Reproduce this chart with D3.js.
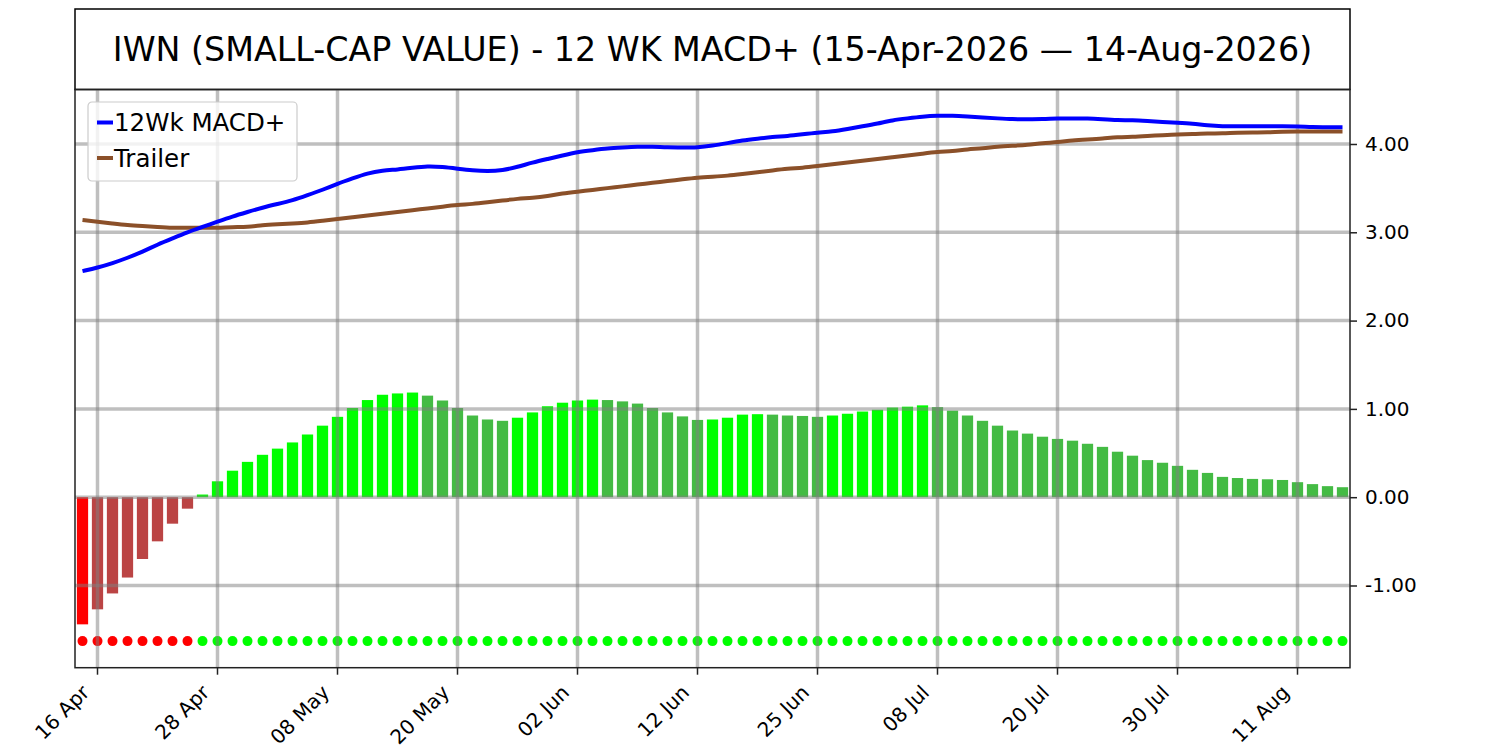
<!DOCTYPE html>
<html>
<head>
<meta charset="utf-8">
<script src="https://cdn.jsdelivr.net/npm/d3@7"></script>
<style>
  body { margin: 0; background: #fff; }
  svg { display: block; font-family: 'DejaVu Sans', sans-serif; }
</style>
</head>
<body>
<div id="chart"></div>
<script>
// trading days shown on the chart
const days = [
  '2026-04-15','2026-04-16','2026-04-17','2026-04-20','2026-04-21','2026-04-22','2026-04-23','2026-04-24','2026-04-27','2026-04-28','2026-04-29','2026-04-30',
  '2026-05-01','2026-05-04','2026-05-05','2026-05-06','2026-05-07','2026-05-08','2026-05-11','2026-05-12','2026-05-13','2026-05-14','2026-05-15','2026-05-18','2026-05-19','2026-05-20','2026-05-21','2026-05-22','2026-05-26','2026-05-27','2026-05-28','2026-05-29',
  '2026-06-01','2026-06-02','2026-06-03','2026-06-04','2026-06-05','2026-06-08','2026-06-09','2026-06-10','2026-06-11','2026-06-12','2026-06-15','2026-06-16','2026-06-17','2026-06-18','2026-06-22','2026-06-23','2026-06-24','2026-06-25','2026-06-26','2026-06-29','2026-06-30',
  '2026-07-01','2026-07-02','2026-07-06','2026-07-07','2026-07-08','2026-07-09','2026-07-10','2026-07-13','2026-07-14','2026-07-15','2026-07-16','2026-07-17','2026-07-20','2026-07-21','2026-07-22','2026-07-23','2026-07-24','2026-07-27','2026-07-28','2026-07-29','2026-07-30','2026-07-31',
  '2026-08-03','2026-08-04','2026-08-05','2026-08-06','2026-08-07','2026-08-10','2026-08-11','2026-08-12','2026-08-13','2026-08-14'
];

const tickDays = ['2026-04-16','2026-04-28','2026-05-08','2026-05-20','2026-06-02','2026-06-12','2026-06-25','2026-07-08','2026-07-20','2026-07-30','2026-08-11'];

// histogram (MACD+ minus trailer)
const hist = [
  -1.44,-1.27,-1.09,-0.91,-0.70,-0.50,-0.30,-0.13,
  0.03,0.18,0.30,0.40,0.48,0.55,0.62,0.71,0.81,0.91,
  1.01,1.10,1.16,1.175,
  1.185,1.15,1.095,1.01,0.925,0.88,0.865,
  0.90,0.96,1.03,1.07,1.095,1.105,
  1.10,1.085,1.06,1.01,0.96,0.915,0.875,
  0.88,0.90,0.935,0.94,
  0.935,0.925,0.92,0.91,
  0.925,0.945,0.97,0.99,1.015,1.025,1.04,
  1.02,0.98,0.925,0.865,0.81,0.755,0.72,0.685,
  0.66,0.64,0.605,0.57,0.515,0.47,0.42,0.39,0.355,0.31,0.275,0.23,0.217,0.207,0.203,0.195,0.17,0.148,0.125,0.113
];

const macd = [
  2.56,2.60,2.65,2.71,2.78,2.86,2.93,3.00,3.06,3.12,3.18,3.23,3.28,3.32,3.36,3.42,3.48,3.55,3.61,3.67,3.70,3.71,
  3.73,3.75,3.74,3.72,3.70,3.69,3.70,3.74,3.79,3.83,3.87,3.91,3.93,3.95,3.96,3.97,3.97,3.96,3.96,3.96,3.98,
  4.01,4.04,4.06,4.08,4.09,4.11,4.13,4.14,4.17,4.20,4.23,4.27,4.29,4.31,4.32,4.32,4.31,4.30,4.29,4.28,4.28,4.28,
  4.29,4.29,4.29,4.28,4.27,4.27,4.26,4.25,4.24,4.23,4.21,4.20,4.20,4.20,4.20,4.20,4.20,4.19,4.19,4.19
];

const trailer = [
  3.14,3.12,3.10,3.08,3.07,3.06,3.05,3.05,3.05,3.05,3.06,3.06,3.08,3.09,3.10,3.11,3.13,3.15,3.17,3.19,3.21,3.23,
  3.25,3.27,3.29,3.31,3.32,3.34,3.36,3.38,3.39,3.41,3.44,3.46,3.48,3.50,3.52,3.54,3.56,3.58,3.60,3.62,3.63,
  3.64,3.66,3.68,3.70,3.72,3.73,3.75,3.77,3.79,3.81,3.83,3.85,3.87,3.89,3.91,3.92,3.94,3.95,3.97,3.98,3.99,4.01,
  4.02,4.04,4.05,4.06,4.08,4.08,4.09,4.10,4.11,4.11,4.12,4.12,4.13,4.13,4.13,4.14,4.14,4.14,4.14,4.14
];

const yTicks = [-1, 0, 1, 2, 3, 4];
const dotLevel = -1.63;
const title = 'IWN (SMALL-CAP VALUE) - 12 WK MACD+ (15-Apr-2026 \u2014 14-Aug-2026)';

const W = 1500, H = 750;
const plot = { left: 75, right: 1350, top: 89.5, bottom: 667.7 };
const fontFamily = "'DejaVu Sans', sans-serif";

const brightGreen = '#00ff00', darkGreen = '#44bb44',
  brightRed = '#ff0000', darkRed = '#bb4444',
  gridColor = '#808080';

const svg = d3.select('#chart')
  .append('svg')
  .attr('width', W)
  .attr('height', H);

// x - one band per trading day
const x = d3.scaleBand()
  .domain(days)
  .range([plot.left, plot.right])
  .paddingInner(0.25)
  .paddingOuter(0.125);
const cx = d => x(d) + x.bandwidth() / 2;

const y = d3.scaleLinear()
  .domain([-1.931, 4.617])
  .range([plot.bottom, plot.top]);

// title box
svg.append('rect')
  .attr('x', plot.left).attr('y', 9)
  .attr('width', plot.right - plot.left).attr('height', plot.top - 9)
  .attr('fill', 'none').attr('stroke', '#000').attr('stroke-width', 1.5);

svg.append('text')
  .attr('x', (plot.left + plot.right) / 2)
  .attr('y', 49)
  .attr('text-anchor', 'middle')
  .attr('dominant-baseline', 'central')
  .style('font-size', '33.3px')
  .style('font-family', fontFamily)
  .text(title);

// bars, colour from sign and direction vs previous day
function barColor(v, i) {
  const prev = i > 0 ? hist[i - 1] : null;
  if (v >= 0) return (prev === null || v >= prev) ? brightGreen : darkGreen;
  return (prev === null || v < prev) ? brightRed : darkRed;
}

const bars = svg.append('g');
bars.selectAll('rect')
  .data(hist)
  .enter()
  .append('rect')
  .attr('x', (d, i) => x(days[i]))
  .attr('width', x.bandwidth())
  .attr('y', d => y(Math.max(0, d)))
  .attr('height', d => Math.abs(y(d) - y(0)))
  .attr('fill', barColor);

// signal dots along the bottom
svg.append('g')
  .selectAll('circle')
  .data(hist)
  .enter()
  .append('circle')
  .attr('cx', (d, i) => cx(days[i]))
  .attr('cy', y(dotLevel))
  .attr('r', 5)
  .attr('fill', d => d < 0 ? brightRed : brightGreen);

// grid
const grid = svg.append('g')
  .attr('stroke', gridColor)
  .attr('stroke-opacity', 0.5)
  .attr('stroke-width', 3.5);

grid.selectAll('.h')
  .data(yTicks)
  .enter()
  .append('line')
  .attr('x1', plot.left).attr('x2', plot.right)
  .attr('y1', d => y(d)).attr('y2', d => y(d));

grid.selectAll('.v')
  .data(tickDays)
  .enter()
  .append('line')
  .attr('x1', cx).attr('x2', cx)
  .attr('y1', plot.top).attr('y2', plot.bottom);

// lines
const line = d3.line()
  .x((d, i) => cx(days[i]))
  .y(d => y(d))
  .curve(d3.curveBasis);

svg.append('path')
  .datum(trailer)
  .attr('d', line)
  .attr('fill', 'none')
  .attr('stroke', '#8b5029')
  .attr('stroke-width', 4);

svg.append('path')
  .datum(macd)
  .attr('d', line)
  .attr('fill', 'none')
  .attr('stroke', '#0000ff')
  .attr('stroke-width', 4);

// frame
svg.append('rect')
  .attr('x', plot.left).attr('y', plot.top)
  .attr('width', plot.right - plot.left).attr('height', plot.bottom - plot.top)
  .attr('fill', 'none').attr('stroke', '#222').attr('stroke-width', 1.5);

// right y axis (plain hyphen for negatives)
const yAxis = svg.append('g')
  .attr('transform', 'translate(' + plot.right + ',0)')
  .call(d3.axisRight(y).tickValues(yTicks).tickFormat(d => d.toFixed(2)).tickSize(7).tickPadding(8));
yAxis.select('.domain').remove();
yAxis.selectAll('line').attr('stroke', '#222').attr('stroke-width', 1.5);
yAxis.selectAll('text')
  .style('font-size', '20px')
  .style('font-family', fontFamily)
  .attr('fill', '#000');

// bottom x axis
const fmt = d3.timeFormat('%d %b');
const parse = d3.timeParse('%Y-%m-%d');
const xAxis = svg.append('g')
  .attr('transform', 'translate(0,' + plot.bottom + ')')
  .call(d3.axisBottom(x).tickValues(tickDays).tickFormat(d => fmt(parse(d))).tickSize(7));
xAxis.select('.domain').remove();
xAxis.selectAll('line').attr('stroke', '#222').attr('stroke-width', 1.5);
xAxis.selectAll('text')
  .style('font-size', '20px')
  .style('font-family', fontFamily)
  .attr('fill', '#000')
  .attr('text-anchor', 'end')
  .attr('dy', null)
  .attr('y', 0)
  .attr('transform', 'translate(-7,26) rotate(-45)');

// legend
const legend = svg.append('g').attr('transform', 'translate(88,102)');
legend.append('rect')
  .attr('width', 209).attr('height', 79).attr('rx', 4)
  .attr('fill', '#fff').attr('fill-opacity', 0.8)
  .attr('stroke', '#cccccc').attr('stroke-width', 1.2);

const legendItems = [
  { label: '12Wk MACD+', color: '#0000ff' },
  { label: 'Trailer', color: '#8b5029' }
];
legendItems.forEach((item, i) => {
  const ly = 20.5 + i * 35.5;
  legend.append('line')
    .attr('x1', 9).attr('x2', 25)
    .attr('y1', ly).attr('y2', ly)
    .attr('stroke', item.color).attr('stroke-width', 4);
  legend.append('text')
    .attr('x', 26).attr('y', ly)
    .attr('dominant-baseline', 'central')
    .style('font-size', '24.5px')
    .style('font-family', fontFamily)
    .text(item.label);
});
</script>
</body>
</html>
